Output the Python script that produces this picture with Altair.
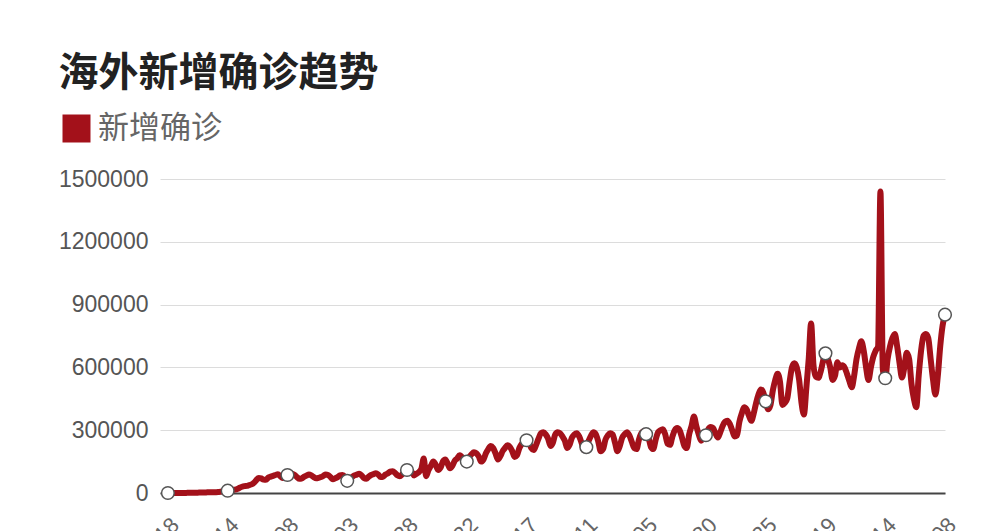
import altair as alt
import pandas as pd

# 海外每日新增确诊, 2020-02-18 ~ 2021-01-08
feb = [100, 120, 150, 250, 300, 400, 500, 450, 600, 800, 1000, 1300]
mar = [1600, 1800, 2100, 2300, 2800, 3600, 4000, 3900, 4100, 4600, 6500, 7500,
       10000, 11000, 12500, 14500, 16000, 19000, 25000, 30000, 33000, 34000,
       38000, 41000, 49000, 62000, 72000, 70000, 64000, 63000, 74000]
apr = [78000, 82000, 86000, 90000, 80000, 72000, 76000, 86000, 88000, 92000,
       86000, 76000, 68000, 70000, 78000, 84000, 88000, 84000, 76000, 70000,
       72000, 76000, 82000, 88000, 86000, 76000, 66000, 70000, 76000, 84000]
may = [86000, 78000, 58000, 66000, 76000, 84000, 88000, 92000, 84000, 72000,
       68000, 78000, 86000, 90000, 94000, 88000, 76000, 78000, 88000, 94000,
       102000, 104000, 96000, 84000, 80000, 90000, 102000, 110000, 114000,
       100000, 84000]
jun = [92000, 100000, 115000, 165000, 80000, 110000, 130000, 150000, 135000,
       110000, 120000, 150000, 160000, 140000, 118000, 130000, 155000, 165000,
       180000, 170000, 140000, 150000, 171000, 185000, 195000, 190000, 175000,
       150000, 160000, 190000]
jul = [210000, 225000, 215000, 190000, 160000, 175000, 200000, 215000, 228000,
       220000, 200000, 172000, 180000, 215000, 235000, 245000, 252000, 240000,
       215000, 205000, 230000, 260000, 285000, 290000, 280000, 260000, 225000,
       240000, 280000, 290000, 285000]
aug = [270000, 250000, 215000, 230000, 265000, 280000, 285000, 270000, 240000,
       205000, 219000, 250000, 275000, 290000, 280000, 245000, 200000, 210000,
       255000, 275000, 285000, 280000, 240000, 200000, 225000, 265000, 280000,
       290000, 275000, 245000, 215000]
sep = [210000, 255000, 285000, 295000, 281000, 265000, 220000, 210000, 255000,
       290000, 300000, 305000, 280000, 235000, 230000, 270000, 300000, 310000,
       300000, 265000, 225000, 215000, 280000, 320000, 365000, 320000, 280000,
       250000, 262000, 276000]
octo = [305000, 315000, 310000, 285000, 265000, 290000, 320000, 340000, 345000,
        330000, 300000, 270000, 275000, 340000, 380000, 410000, 400000, 370000,
        345000, 380000, 430000, 470000, 495000, 480000, 438000, 400000, 420000,
        490000, 540000, 570000, 530000]
nov = [420000, 430000, 450000, 530000, 600000, 620000, 600000, 540000, 430000,
       375000, 500000, 640000, 810000, 610000, 555000, 550000, 580000, 630000,
       667000, 640000, 600000, 540000, 560000, 625000, 600000, 610000, 600000,
       570000, 535000, 505000]
dec = [560000, 640000, 690000, 725000, 680000, 600000, 540000, 600000, 650000,
       680000, 700000, 1440000, 590000, 548000, 640000, 700000, 740000, 760000,
       700000, 620000, 552000, 600000, 670000, 640000, 520000, 450000, 410000,
       560000, 680000, 750000, 760000]
jan = [740000, 640000, 540000, 470000, 560000, 700000, 800000, 852000]

tick_labels = ["02-18", "03-14", "04-08", "05-03", "05-28", "06-22", "07-17",
               "08-11", "09-05", "09-30", "10-25", "11-19", "12-14", "01-08"]
y_ticks = [0, 300000, 600000, 900000, 1200000, 1500000]

values = feb + mar + apr + may + jun + jul + aug + sep + octo + nov + dec + jan
df = pd.DataFrame({"d": range(len(values)), "value": values, "series": "新增确诊"})

red = "#a3111a"
cjk = "Noto Sans CJK SC"
label_expr = "[" + ",".join(f"'{t}'" for t in tick_labels) + "][datum.value / 25]"

x = alt.X("d:Q",
          scale=alt.Scale(domain=[-3.3, 325], nice=False, zero=False),
          axis=alt.Axis(values=list(range(0, 326, 25)), labelExpr=label_expr,
                        labelAngle=-45, labelFontSize=22, labelColor="#666",
                        labelFont="Liberation Sans", labelPadding=21,
                        grid=False, ticks=False, title=None,
                        domainColor="#444", domainWidth=2))
y = alt.Y("value:Q",
          scale=alt.Scale(domain=[0, 1500000], nice=False),
          axis=alt.Axis(values=y_ticks, format="d", grid=True, gridColor="#dcdcdc",
                        ticks=False, domain=False, title=None, labelPadding=12,
                        labelFontSize=23, labelColor="#555",
                        labelFont="Liberation Sans"))

line = alt.Chart(df).mark_line(strokeWidth=6, interpolate="monotone").encode(
    x=x, y=y,
    color=alt.Color("series:N",
                    scale=alt.Scale(domain=["新增确诊"], range=[red]),
                    legend=alt.Legend(title=None, orient="none",
                                      legendX=-99, legendY=-66,
                                      symbolType="square", symbolSize=784,
                                      symbolFillColor=red, symbolStrokeWidth=0,
                                      labelFontSize=31, labelColor="#666",
                                      labelFont=cjk, labelOffset=6))
)

# 每 25 天一个白色圆点
dots = alt.Chart(df).mark_circle(color="white", stroke="#555", strokeWidth=1.5,
                                 size=160, opacity=1).encode(
    x="d:Q", y="value:Q"
).transform_filter("datum.d % 25 == 0")

chart = (line + dots).properties(
    width=785,
    height=314,
    padding={"left": 50, "top": 46, "right": 10, "bottom": 10},
    background="white",
    title=alt.TitleParams("海外新增确诊趋势", anchor="start", frame="bounds",
                          fontSize=40, fontWeight="bold", color="#222",
                          font=cjk, offset=19),
).configure_view(stroke=None)

chart.save("out.html", embed_options={"renderer": "svg", "actions": False})
